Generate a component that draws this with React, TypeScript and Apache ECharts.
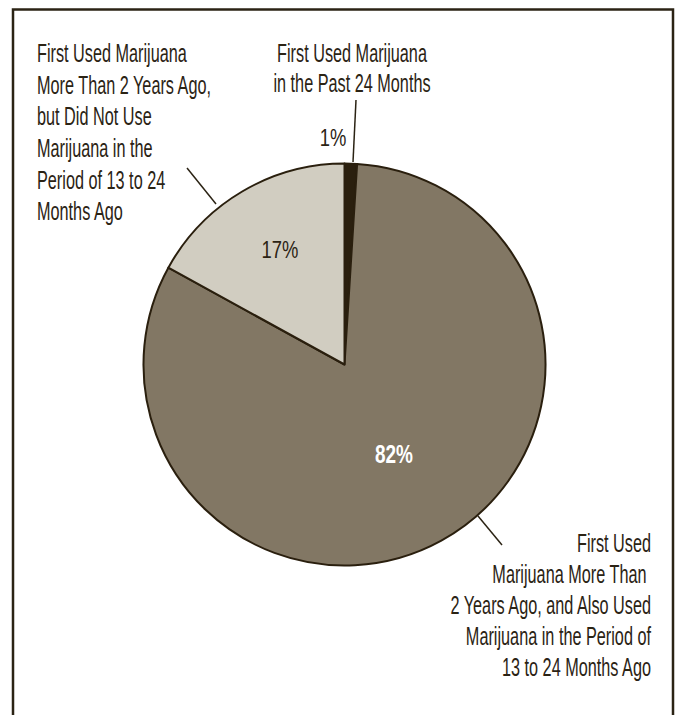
import React, { useEffect, useRef } from 'react';
import * as echarts from 'echarts';

const categories = [
  'First Used Marijuana\nin the Past 24 Months',
  'First Used\nMarijuana More Than \n2 Years Ago, and Also Used\nMarijuana in the Period of\n13 to 24 Months Ago',
  'First Used Marijuana\nMore Than 2 Years Ago,\nbut Did Not Use\nMarijuana in the\nPeriod of 13 to 24\nMonths Ago',
];
const shares = [1, 82, 17];
const sliceColors = ['#2a1f0e', '#827764', '#d1cdc1'];

const INK = '#2b2314';
const FONT = "'Liberation Sans', Arial, sans-serif";

// label placement (layout only)
const nameLayouts: any[] = [
  { x: 352, y: 38.3, align: 'center', lineHeight: 30 },
  { x: 651, y: 527.8, align: 'right', lineHeight: 31 },
  { x: 37, y: 37.5, align: 'left', lineHeight: 31.6 },
];
const leaderLines = [
  [353, 162, 356, 100],
  [478, 516, 502, 545],
  [216, 204, 187, 168],
];
const pctLayouts: any[] = [
  { x: 333, y: 138, fontSize: 23, scaleX: 0.8, color: INK, weight: 'normal' },
  { x: 394, y: 454, fontSize: 26, scaleX: 0.73, color: '#ffffff', weight: 'bold' },
  { x: 280, y: 250, fontSize: 23, scaleX: 0.8, color: INK, weight: 'normal' },
];

export default function App() {
  const ref = useRef<HTMLDivElement>(null);
  useEffect(() => {
    if (!ref.current) return;
    const chart = echarts.init(ref.current, undefined, { renderer: 'svg' });
    const center = [344.5, 364.5];
    const radius = 201;

    const graphics: any[] = [
      {
        type: 'rect',
        shape: { x: 13, y: 9.5, width: 660, height: 740 },
        style: { fill: 'none', stroke: INK, lineWidth: 2.5 },
        silent: true,
        z: 0,
      },
    ];
    categories.forEach((name, i) => {
      const l = nameLayouts[i];
      graphics.push({
        type: 'text',
        x: l.x,
        y: l.y,
        scaleX: 0.65,
        silent: true,
        z: 10,
        style: {
          text: name,
          fill: INK,
          fontFamily: FONT,
          fontSize: 25,
          lineHeight: l.lineHeight,
          align: l.align,
          verticalAlign: 'top',
        },
      });
      const [x1, y1, x2, y2] = leaderLines[i];
      graphics.push({
        type: 'line',
        silent: true,
        z: 10,
        shape: { x1, y1, x2, y2 },
        style: { stroke: INK, lineWidth: 1.5 },
      });
      const p = pctLayouts[i];
      graphics.push({
        type: 'text',
        x: p.x,
        y: p.y,
        scaleX: p.scaleX,
        silent: true,
        z: 10,
        style: {
          text: shares[i] + '%',
          fill: p.color,
          fontFamily: FONT,
          fontSize: p.fontSize,
          fontWeight: p.weight,
          align: 'center',
          verticalAlign: 'middle',
        },
      });
    });

    chart.setOption({
      animation: false,
      backgroundColor: '#ffffff',
      graphic: graphics,
      series: [
        {
          type: 'pie',
          center,
          radius,
          startAngle: 90,
          clockwise: true,
          silent: true,
          itemStyle: { borderColor: '#2a1f0e', borderWidth: 2 },
          label: { show: false },
          labelLine: { show: false },
          data: categories.map((name, i) => ({
            name,
            value: shares[i],
            itemStyle: { color: sliceColors[i] },
          })),
        },
      ],
    });
    return () => chart.dispose();
  }, []);
  return (
    <div
      ref={ref}
      style={{ position: 'fixed', left: 0, top: 0, width: 677, height: 715 }}
    />
  );
}
